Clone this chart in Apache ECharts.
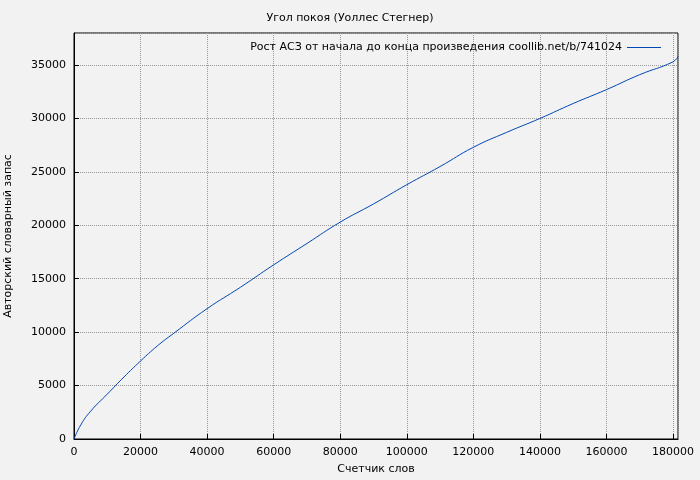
<!DOCTYPE html>
<html>
<head>
<meta charset="utf-8">
<script src="https://cdn.jsdelivr.net/npm/echarts@6/dist/echarts.min.js"></script>
<style>html,body{margin:0;padding:0;background:#f2f2f2;}#chart{width:700px;height:480px;}</style>
</head>
<body>
<div id="chart"></div>
<script>
// word counter vs. vocabulary
var words = [0, 2000, 5000, 10000, 15000, 20000, 25000, 30000, 40000, 50000, 60000, 70000, 80000, 90000, 100000, 110000, 120000, 130000, 140000, 150000, 160000, 170000, 180000, 181500];
var vocab = [0, 1300, 2600, 4200, 5800, 7300, 8700, 9900, 12200, 14200, 16300, 18300, 20300, 22000, 23800, 25500, 27300, 28700, 30000, 31400, 32700, 34100, 35300, 35800];
var seriesName = 'Рост АСЗ от начала до конца произведения coollib.net/b/741024';

var points = [];
for (var i = 0; i < words.length; i++) points.push([words[i], vocab[i]]);

var myChart = echarts.init(document.getElementById('chart'));
var font = 'DejaVu Sans';
var option = {
	backgroundColor: '#f2f2f2',
	animation: false,
	textStyle: {fontFamily: font},
	title: {
		text: 'Угол покоя (Уоллес Стегнер)',
		left: 'center', top: 8,
		textStyle: {fontSize: 11, fontWeight: 'normal', color: '#000', fontFamily: font}
	},
	legend: {
		right: 34, top: 37, itemWidth: 34, itemHeight: 1,
		icon: 'rect', align: 'right',
		textStyle: {fontSize: 11, color: '#000', fontFamily: font},
		data: [seriesName]
	},
	grid: {left: 74, right: 22, top: 33, bottom: 41, outerBoundsMode: 'none', containLabel: false,
		show: true, borderColor: '#000', borderWidth: 1, backgroundColor: 'transparent'},
	xAxis: {
		type: 'value', min: 0, max: 181500, interval: 20000,
		name: 'Счетчик слов', nameLocation: 'middle', nameGap: 25,
		nameTextStyle: {fontSize: 11, color: '#000'},
		axisLine: {show: true, onZero: false, lineStyle: {color: '#000'}},
		axisTick: {inside: true, lineStyle: {color: '#000'}},
		axisLabel: {color: '#000', fontSize: 11, showMaxLabel: false, formatter: function(v) { return String(v); }},
		splitLine: {lineStyle: {color: '#999', type: 'dotted'}}
	},
	yAxis: {
		type: 'value', min: 0, max: 38000, interval: 5000,
		name: 'Авторский словарный запас', nameLocation: 'middle', nameGap: 60,
		nameTextStyle: {fontSize: 11, color: '#000'},
		axisLine: {show: true, lineStyle: {color: '#000'}},
		axisTick: {inside: true, lineStyle: {color: '#000'}},
		axisLabel: {color: '#000', fontSize: 11, showMaxLabel: false, formatter: function(v) { return String(v); }},
		splitLine: {lineStyle: {color: '#999', type: 'dotted'}}
	},
	series: [{
		name: seriesName,
		type: 'line',
		data: points,
		smooth: true,
		showSymbol: false,
		color: '#0047b3',
		lineStyle: {width: 1}
	}]
};
myChart.setOption(option);
</script>
</body>
</html>
